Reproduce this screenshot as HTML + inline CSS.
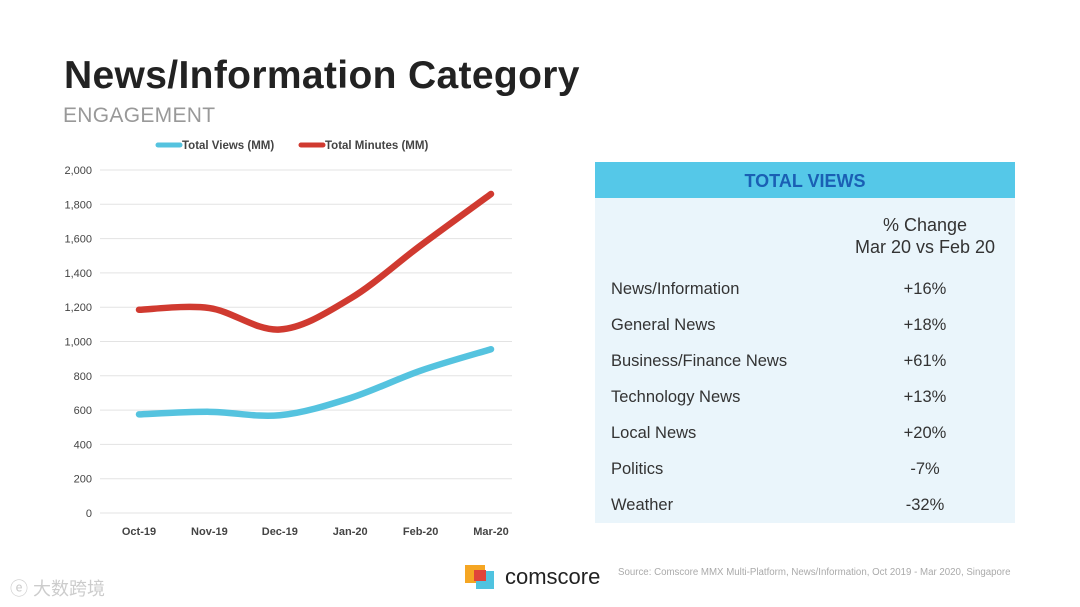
<!DOCTYPE html>
<html><head><meta charset="utf-8"><style>
body{margin:0;width:1080px;height:607px;background:#fff;font-family:"Liberation Sans",sans-serif;overflow:hidden;position:relative}
.abs{position:absolute}
</style></head><body>
<div class="abs" style="left:64px;top:54px;font-size:39px;font-weight:bold;color:#222;letter-spacing:0.35px">News/Information Category</div>
<div class="abs" style="left:63px;top:104px;font-size:21px;color:#999;letter-spacing:0.3px">ENGAGEMENT</div>
<svg class="abs" style="left:0;top:0" width="560" height="550">
<g id="g"></g>
</svg>
<div class="abs" style="left:595px;top:162px;width:420px;height:361px;background:#eaf5fb">
<div style="height:36px;background:#55c8e8;color:#1a5fb4;font-weight:bold;font-size:18px;text-align:center;line-height:38px">TOTAL VIEWS</div>
<div style="position:absolute;left:230px;width:200px;top:52px;text-align:center;font-size:18px;color:#333;line-height:22px">% Change<br>Mar 20 vs Feb 20</div>
<div id="rows"></div>
</div>
<div class="abs" style="left:465px;top:565px;width:20px;height:18px;background:#f5a623"></div>
<div class="abs" style="left:476px;top:571px;width:18px;height:18px;background:#4fc3e0"></div>
<div class="abs" style="left:474px;top:570px;width:12px;height:11px;background:#e0443a"></div>
<div class="abs" style="left:505px;top:564px;font-size:22px;color:#222">comscore</div>
<div class="abs" style="left:618px;top:567px;font-size:9.7px;color:#aaa">Source: Comscore MMX Multi-Platform, News/Information, Oct 2019 - Mar 2020, Singapore</div>
<div class="abs" style="left:10px;top:575px;font-size:18px;color:#ccc;font-family:'Liberation Sans','Noto Sans CJK SC',sans-serif">ⓔ 大数跨境</div>
<script>
const categories=["Oct-19","Nov-19","Dec-19","Jan-20","Feb-20","Mar-20"];
const views=[575,590,570,670,830,955];
const minutes=[1185,1195,1070,1250,1560,1860];
const yTicks=[0,200,400,600,800,1000,1200,1400,1600,1800,2000];
const rowLabels=["News/Information","General News","Business/Finance News","Technology News","Local News","Politics","Weather"];
const rowValues=["+16%","+18%","+61%","+13%","+20%","-7%","-32%"];
const NS="http://www.w3.org/2000/svg";
const g=document.getElementById('g');
const y=v=>513-v/2000*343;
const x=i=>139+i*(491-139)/(categories.length-1);
function mk(t,a){const e=document.createElementNS(NS,t);for(const k in a)e.setAttribute(k,a[k]);g.appendChild(e);return e;}
yTicks.forEach(v=>{
 const l=mk('line',{x1:100,x2:512,y1:y(v),y2:y(v),stroke:'#e3e3e3','stroke-width':1});
 
 
 const t=mk('text',{x:92,y:y(v)+4,'text-anchor':'end','font-size':11,fill:'#444'});
 t.textContent=v.toLocaleString('en-US');
 
 
});
categories.forEach((c,i)=>{
 const t=mk('text',{x:x(i),y:535,'text-anchor':'middle','font-size':11,'font-weight':'bold',fill:'#444'});
 t.textContent=c;
 
 
});
function path(d){
 const p=d.map((v,i)=>[x(i),y(v)]);let s=`M${p[0][0]},${p[0][1]}`;
 for(let i=0;i<p.length-1;i++){const p0=p[i-1]||p[i],p1=p[i],p2=p[i+1],p3=p[i+2]||p2;
  s+=` C${p1[0]+(p2[0]-p0[0])/6},${p1[1]+(p2[1]-p0[1])/6} ${p2[0]-(p3[0]-p1[0])/6},${p2[1]-(p3[1]-p1[1])/6} ${p2[0]},${p2[1]}`;}
 return s;}
const lv=mk('path',{d:path(views),fill:'none',stroke:'#55c3df','stroke-width':6.5,'stroke-linecap':'round'});


const lm=mk('path',{d:path(minutes),fill:'none',stroke:'#d03a30','stroke-width':6.5,'stroke-linecap':'round'});


[[158,'#55c3df','Total Views (MM)'],[301,'#d03a30','Total Minutes (MM)']].forEach(([lx,c,n])=>{
 const l=mk('line',{x1:lx,x2:lx+22,y1:145,y2:145,stroke:c,'stroke-width':5,'stroke-linecap':'round'});
 
 
 const t=mk('text',{x:lx+24,y:149,'font-size':11.5,'font-weight':'bold',fill:'#444'});
 t.textContent=n;
 
 
});
const rows=document.getElementById('rows');
rowLabels.forEach((l,i)=>{
 const a=document.createElement('div');
 
 
 a.style.cssText=`position:absolute;left:16px;top:${118+i*36}px;font-size:16.5px;color:#333`;
 a.textContent=l;rows.appendChild(a);
 const b=document.createElement('div');
 
 
 b.style.cssText=`position:absolute;left:280px;width:100px;text-align:center;top:${118+i*36}px;font-size:16.5px;color:#333`;
 b.textContent=rowValues[i];rows.appendChild(b);
});
</script>
</body></html>
